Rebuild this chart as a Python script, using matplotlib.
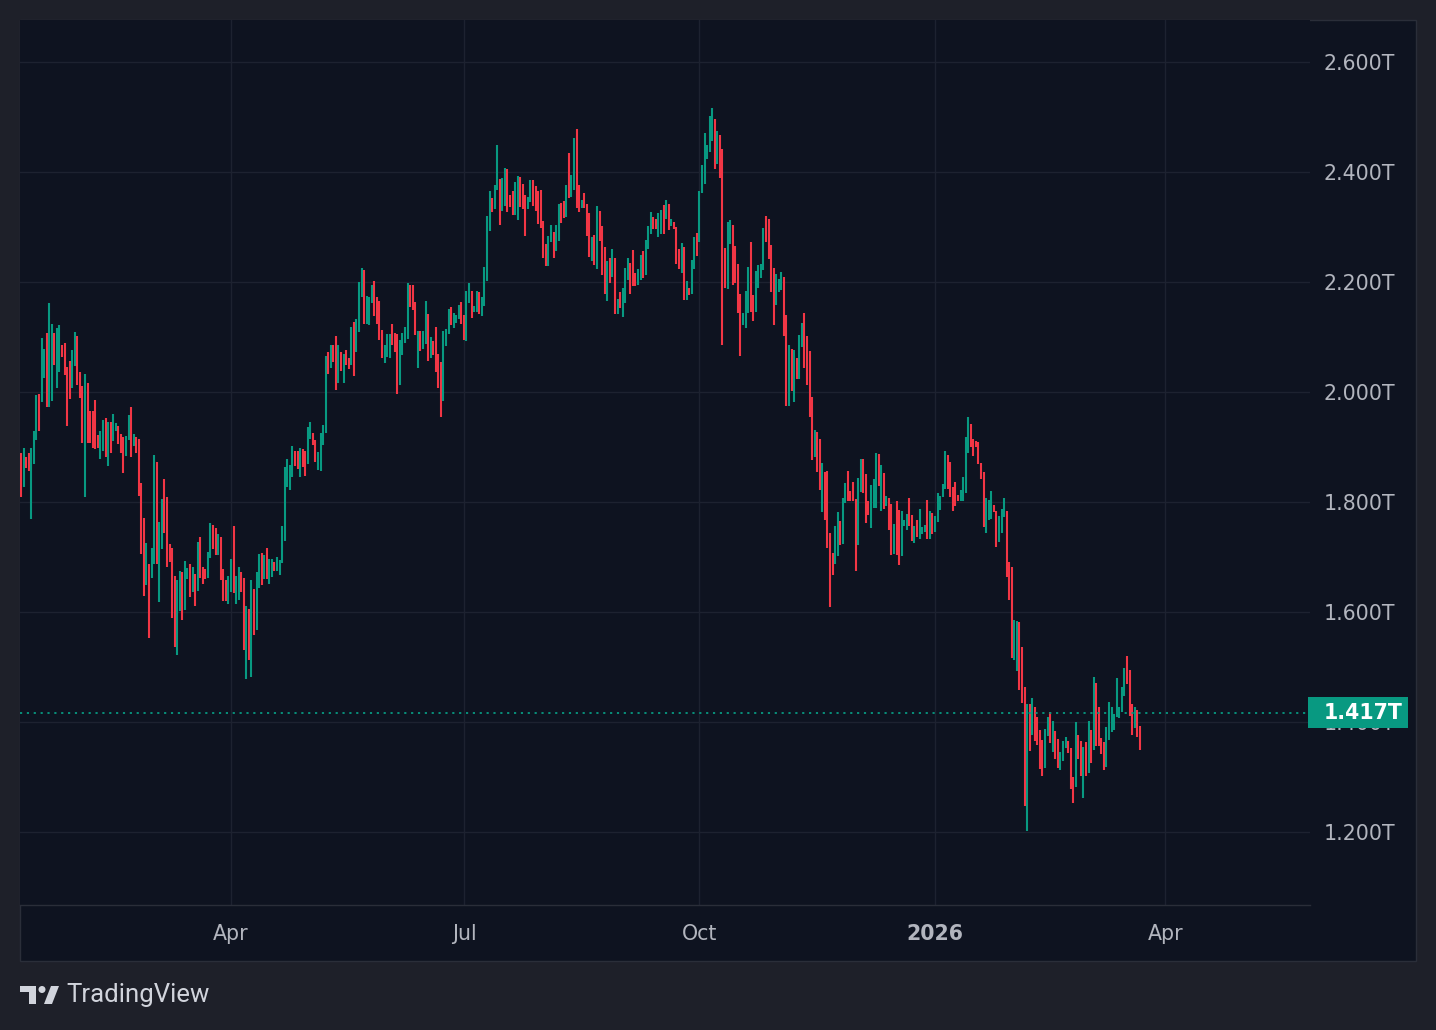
import numpy as np
import matplotlib
matplotlib.use("Agg")
import matplotlib.pyplot as plt
import matplotlib.dates as mdates
from matplotlib.patches import Rectangle, Polygon, Circle
from matplotlib.transforms import blended_transform_factory

# daily candles, first one on 2025-01-09 (values in trillions)
start_date = "2025-01-09"
opens = [
    1.889, 1.828, 1.881, 1.889, 1.770, 1.870, 1.912, 1.996, 1.981, 2.026,
    2.108, 1.972, 1.984, 2.108, 2.008, 2.037, 2.085, 2.089, 2.046, 2.056,
    2.008, 2.048, 2.102, 2.036, 2.011, 1.810, 2.016, 1.965, 1.965, 1.985,
    1.921, 1.879, 1.892, 1.953, 1.866, 1.945, 1.911, 1.930, 1.939, 1.924,
    1.918, 1.884, 1.913, 1.973, 1.901, 1.918, 1.915, 1.834, 1.771, 1.650,
    1.687, 1.662, 1.688, 1.873, 1.619, 1.715, 1.842, 1.809, 1.724, 1.716,
    1.665, 1.521, 1.601, 1.673, 1.604, 1.660, 1.687, 1.637, 1.669, 1.639,
    1.736, 1.682, 1.678, 1.662, 1.699, 1.758, 1.753, 1.704, 1.736, 1.678,
    1.658, 1.615, 1.636, 1.756, 1.615, 1.622, 1.673, 1.662, 1.478, 1.606,
    1.482, 1.642, 1.567, 1.644, 1.707, 1.660, 1.716, 1.651, 1.664, 1.691,
    1.675, 1.667, 1.689, 1.729, 1.827, 1.822, 1.845, 1.893, 1.893, 1.845,
    1.896, 1.893, 1.869, 1.914, 1.925, 1.913, 1.859, 1.857, 1.904, 1.926,
    2.073, 2.044, 2.085, 2.102, 2.017, 2.073, 2.017, 2.076, 2.062, 2.050,
    2.127, 2.072, 2.110, 2.173, 2.222, 2.124, 2.121, 2.162, 2.202, 2.173,
    2.166, 2.113, 2.052, 2.064, 2.062, 2.124, 2.107, 2.105, 2.012, 2.068,
    2.090, 2.097, 2.195, 2.195, 2.164, 2.044, 2.111, 2.079, 2.088, 2.142,
    2.061, 2.093, 2.118, 2.070, 2.055, 1.984, 2.084, 2.106, 2.155, 2.117,
    2.126, 2.133, 2.164, 2.140, 2.092, 2.161, 2.184, 2.146, 2.146, 2.182,
    2.139, 2.157, 2.202, 2.293, 2.353, 2.333, 2.368, 2.387, 2.330, 2.339,
    2.405, 2.358, 2.365, 2.321, 2.313, 2.391, 2.378, 2.358, 2.333, 2.346,
    2.385, 2.374, 2.365, 2.367, 2.311, 2.269, 2.230, 2.273, 2.291, 2.257,
    2.275, 2.344, 2.347, 2.319, 2.434, 2.355, 2.368, 2.478, 2.376, 2.335,
    2.362, 2.342, 2.325, 2.239, 2.285, 2.224, 2.329, 2.302, 2.264, 2.166,
    2.244, 2.210, 2.244, 2.141, 2.182, 2.137, 2.161, 2.204, 2.235, 2.258,
    2.217, 2.195, 2.204, 2.256, 2.212, 2.260, 2.288, 2.318, 2.315, 2.281,
    2.288, 2.340, 2.315, 2.342, 2.302, 2.309, 2.300, 2.260, 2.217, 2.264,
    2.168, 2.190, 2.178, 2.224, 2.289, 2.272, 2.361, 2.379, 2.424, 2.437,
    2.457, 2.496, 2.415, 2.467, 2.442, 2.262, 2.188, 2.270, 2.304, 2.265,
    2.233, 2.178, 2.122, 2.117, 2.144, 2.273, 2.176, 2.146, 2.190, 2.208,
    2.221, 2.320, 2.315, 2.267, 2.225, 2.159, 2.182, 2.186, 2.209, 2.140,
    1.975, 2.078, 1.981, 2.062, 2.024, 2.082, 2.144, 2.102, 2.075, 1.991,
    1.882, 1.927, 1.915, 1.782, 1.855, 1.856, 1.744, 1.707, 1.688, 1.702,
    1.766, 1.724, 1.799, 1.856, 1.820, 1.836, 1.805, 1.722, 1.819, 1.878,
    1.851, 1.802, 1.753, 1.790, 1.790, 1.887, 1.784, 1.853, 1.793, 1.807,
    1.796, 1.706, 1.802, 1.785, 1.701, 1.757, 1.750, 1.807, 1.776, 1.726,
    1.767, 1.732, 1.742, 1.746, 1.804, 1.733, 1.780, 1.746, 1.764, 1.786,
    1.810, 1.824, 1.886, 1.873, 1.827, 1.836, 1.813, 1.801, 1.801, 1.817,
    1.890, 1.942, 1.915, 1.911, 1.909, 1.871, 1.855, 1.744, 1.768, 1.770,
    1.795, 1.784, 1.728, 1.744, 1.773, 1.784, 1.691, 1.682, 1.513, 1.492,
    1.582, 1.536, 1.464, 1.202, 1.433, 1.377, 1.428, 1.410, 1.386, 1.368,
    1.317, 1.375, 1.419, 1.346, 1.384, 1.370, 1.313, 1.330, 1.352, 1.366,
    1.353, 1.300, 1.281, 1.376, 1.365, 1.262, 1.364, 1.308, 1.385, 1.350,
    1.471, 1.427, 1.371, 1.364, 1.319, 1.368, 1.381, 1.386, 1.410, 1.408,
    1.419, 1.448, 1.520, 1.495, 1.433, 1.390, 1.422, 1.393,
]
closes = [
    1.809, 1.898, 1.861, 1.857, 1.898, 1.929, 1.995, 1.930, 2.098, 2.078,
    1.973, 2.161, 2.124, 2.050, 2.116, 2.122, 2.064, 2.031, 1.939, 1.987,
    2.076, 2.109, 2.013, 1.990, 1.908, 2.033, 1.908, 1.908, 1.898, 1.897,
    1.899, 1.929, 1.949, 1.882, 1.945, 1.890, 1.960, 1.944, 1.906, 1.890,
    1.853, 1.920, 1.958, 1.882, 1.924, 1.890, 1.811, 1.706, 1.630, 1.725,
    1.553, 1.716, 1.885, 1.688, 1.764, 1.805, 1.744, 1.681, 1.691, 1.590,
    1.537, 1.658, 1.674, 1.586, 1.693, 1.680, 1.628, 1.682, 1.611, 1.727,
    1.661, 1.651, 1.660, 1.709, 1.762, 1.715, 1.704, 1.742, 1.658, 1.620,
    1.620, 1.665, 1.696, 1.635, 1.665, 1.682, 1.636, 1.531, 1.611, 1.513,
    1.658, 1.558, 1.673, 1.705, 1.649, 1.704, 1.660, 1.696, 1.696, 1.675,
    1.700, 1.695, 1.756, 1.864, 1.878, 1.867, 1.902, 1.865, 1.860, 1.898,
    1.864, 1.847, 1.936, 1.945, 1.904, 1.872, 1.891, 1.925, 1.940, 2.066,
    2.033, 2.085, 2.055, 2.004, 2.085, 2.039, 2.069, 2.050, 2.041, 2.118,
    2.030, 2.133, 2.200, 2.226, 2.124, 2.175, 2.173, 2.195, 2.139, 2.124,
    2.095, 2.062, 2.085, 2.105, 2.105, 2.086, 2.073, 1.997, 2.095, 2.107,
    2.118, 2.198, 2.155, 2.150, 2.104, 2.111, 2.075, 2.111, 2.165, 2.057,
    2.100, 2.068, 2.037, 2.008, 1.955, 2.111, 2.115, 2.151, 2.122, 2.144,
    2.140, 2.158, 2.124, 2.095, 2.184, 2.198, 2.135, 2.156, 2.184, 2.141,
    2.173, 2.227, 2.320, 2.365, 2.328, 2.376, 2.449, 2.304, 2.389, 2.407,
    2.328, 2.337, 2.321, 2.382, 2.393, 2.337, 2.333, 2.284, 2.355, 2.385,
    2.339, 2.330, 2.306, 2.299, 2.244, 2.230, 2.284, 2.303, 2.244, 2.303,
    2.342, 2.308, 2.317, 2.376, 2.353, 2.395, 2.462, 2.335, 2.328, 2.349,
    2.335, 2.284, 2.246, 2.282, 2.231, 2.338, 2.275, 2.213, 2.179, 2.238,
    2.199, 2.260, 2.142, 2.170, 2.153, 2.190, 2.226, 2.244, 2.179, 2.193,
    2.193, 2.224, 2.249, 2.208, 2.276, 2.302, 2.327, 2.296, 2.296, 2.326,
    2.331, 2.288, 2.349, 2.295, 2.315, 2.297, 2.233, 2.224, 2.271, 2.168,
    2.201, 2.177, 2.240, 2.282, 2.248, 2.365, 2.413, 2.471, 2.449, 2.502,
    2.516, 2.406, 2.475, 2.390, 2.086, 2.190, 2.309, 2.313, 2.195, 2.199,
    2.144, 2.066, 2.144, 2.184, 2.227, 2.146, 2.130, 2.220, 2.231, 2.233,
    2.298, 2.272, 2.241, 2.182, 2.122, 2.215, 2.205, 2.218, 2.102, 1.975,
    2.086, 2.002, 2.076, 2.024, 2.104, 2.125, 2.044, 2.013, 1.955, 1.877,
    1.931, 1.855, 1.821, 1.871, 1.768, 1.717, 1.610, 1.668, 1.757, 1.781,
    1.721, 1.808, 1.835, 1.802, 1.802, 1.802, 1.675, 1.844, 1.878, 1.817,
    1.761, 1.777, 1.831, 1.842, 1.889, 1.830, 1.867, 1.788, 1.811, 1.750,
    1.704, 1.760, 1.704, 1.686, 1.784, 1.767, 1.778, 1.757, 1.730, 1.756,
    1.737, 1.787, 1.755, 1.758, 1.733, 1.784, 1.741, 1.775, 1.816, 1.811,
    1.833, 1.893, 1.824, 1.810, 1.784, 1.792, 1.802, 1.822, 1.845, 1.918,
    1.955, 1.900, 1.884, 1.900, 1.870, 1.841, 1.755, 1.807, 1.804, 1.820,
    1.781, 1.719, 1.775, 1.787, 1.807, 1.664, 1.621, 1.517, 1.585, 1.584,
    1.459, 1.435, 1.248, 1.433, 1.348, 1.444, 1.366, 1.359, 1.315, 1.302,
    1.388, 1.410, 1.362, 1.402, 1.333, 1.317, 1.346, 1.366, 1.373, 1.344,
    1.279, 1.252, 1.400, 1.332, 1.301, 1.355, 1.302, 1.402, 1.326, 1.482,
    1.357, 1.357, 1.341, 1.313, 1.391, 1.436, 1.427, 1.415, 1.480, 1.427,
    1.464, 1.498, 1.470, 1.411, 1.377, 1.427, 1.373, 1.350,
]
last_price = 1.417

price_ticks = [1.2, 1.4, 1.6, 1.8, 2.0, 2.2, 2.4, 2.6]
time_ticks = ["2025-04-01", "2025-07-01", "2025-10-01", "2026-01-01", "2026-04-01"]
time_labels = ["Apr", "Jul", "Oct", "2026", "Apr"]

W, H = 1436, 1030
BG_OUTER = "#1e2029"
BG_PANEL = "#0e1320"
GRID = "#1d2230"
TEXT = "#b2b5be"
UP = "#089981"
DOWN = "#f23645"

opens = np.array(opens)
closes = np.array(closes)
dates = np.datetime64(start_date) + np.arange(len(opens))
x = mdates.date2num(dates)
highs = np.maximum(opens, closes)
lows = np.minimum(opens, closes)
colors = np.where(closes >= opens, UP, DOWN)

fig = plt.figure(figsize=(W / 100, H / 100), dpi=100, facecolor=BG_OUTER)

# background layer in pixel coordinates (panel frame + logo)
bg = fig.add_axes([0, 0, 1, 1], zorder=0)
bg.set_xlim(0, W); bg.set_ylim(H, 0); bg.axis("off")
bg.add_patch(Rectangle((19.5, 19.5), 1396, 941, fc=BG_PANEL, ec="#2a2e39", lw=1))
logo_c = "#d1d4dc"
bg.add_patch(Rectangle((20, 986), 16, 6, fc=logo_c, ec="none"))
bg.add_patch(Rectangle((29, 986), 7, 18, fc=logo_c, ec="none"))
bg.add_patch(Circle((42, 989.5), 3.5, fc=logo_c, ec="none"))
bg.add_patch(Polygon([(44, 1004), (51, 986), (59, 986), (52, 1004)], fc=logo_c, ec="none"))
bg.text(66, 995, "TradingView", color=logo_c, fontsize=18.5, family="Roboto",
        va="center", ha="left")

ax = fig.add_axes([20 / W, 1 - 905 / H, 1290 / W, 885 / H], zorder=1)
ax.set_facecolor(BG_PANEL)

ax.vlines(x, lows, highs, colors=colors, linewidth=1.5, zorder=3)

ymin, ymax = 1.0673, 2.6764
ax.set_ylim(ymin, ymax)
ax.set_xlim(x[0] - 0.4, x[0] + 503.5)

for v in price_ticks:
    ax.axhline(v, color=GRID, lw=1, zorder=1)
tick_x = mdates.date2num(np.array(time_ticks, dtype="datetime64[D]"))
for t in tick_x:
    ax.axvline(t, color=GRID, lw=1, zorder=1)

ax.yaxis.tick_right()
ax.set_yticks(price_ticks)
ax.set_yticklabels([f"{v:.3f}T" for v in price_ticks])
ax.tick_params(axis="y", length=0, pad=10, labelsize=14.8, labelcolor=TEXT)
ax.set_xticks(tick_x)
ax.set_xticklabels(time_labels)
ax.tick_params(axis="x", length=0, pad=14, labelsize=14.8, labelcolor=TEXT)
for lab in ax.get_xticklabels():
    if lab.get_text() == "2026":
        lab.set_fontweight("bold")

for s in ["top", "left", "right"]:
    ax.spines[s].set_visible(False)
ax.spines["bottom"].set_color("#2a2e39")
ax.spines["bottom"].set_linewidth(1)

# last price line + label (covers the 1.400T tick label as in TradingView)
ax.axhline(last_price, color=UP, lw=1.3, linestyle=(0, (1.2, 2.6)), zorder=4)
trans = blended_transform_factory(fig.transFigure, ax.transData)
h_data = 31 * (ymax - ymin) / 885
ax.add_patch(Rectangle((1308 / W, last_price - h_data / 2), 100 / W, h_data,
                       transform=trans, fc=UP, ec="none", clip_on=False, zorder=5))
ax.text(1324 / W, last_price, f"{last_price:.3f}T", transform=trans, color="white",
        fontsize=14.8, fontweight="bold", va="center", ha="left", zorder=6, clip_on=False)

fig.savefig("out.png", dpi=100, facecolor=BG_OUTER)
